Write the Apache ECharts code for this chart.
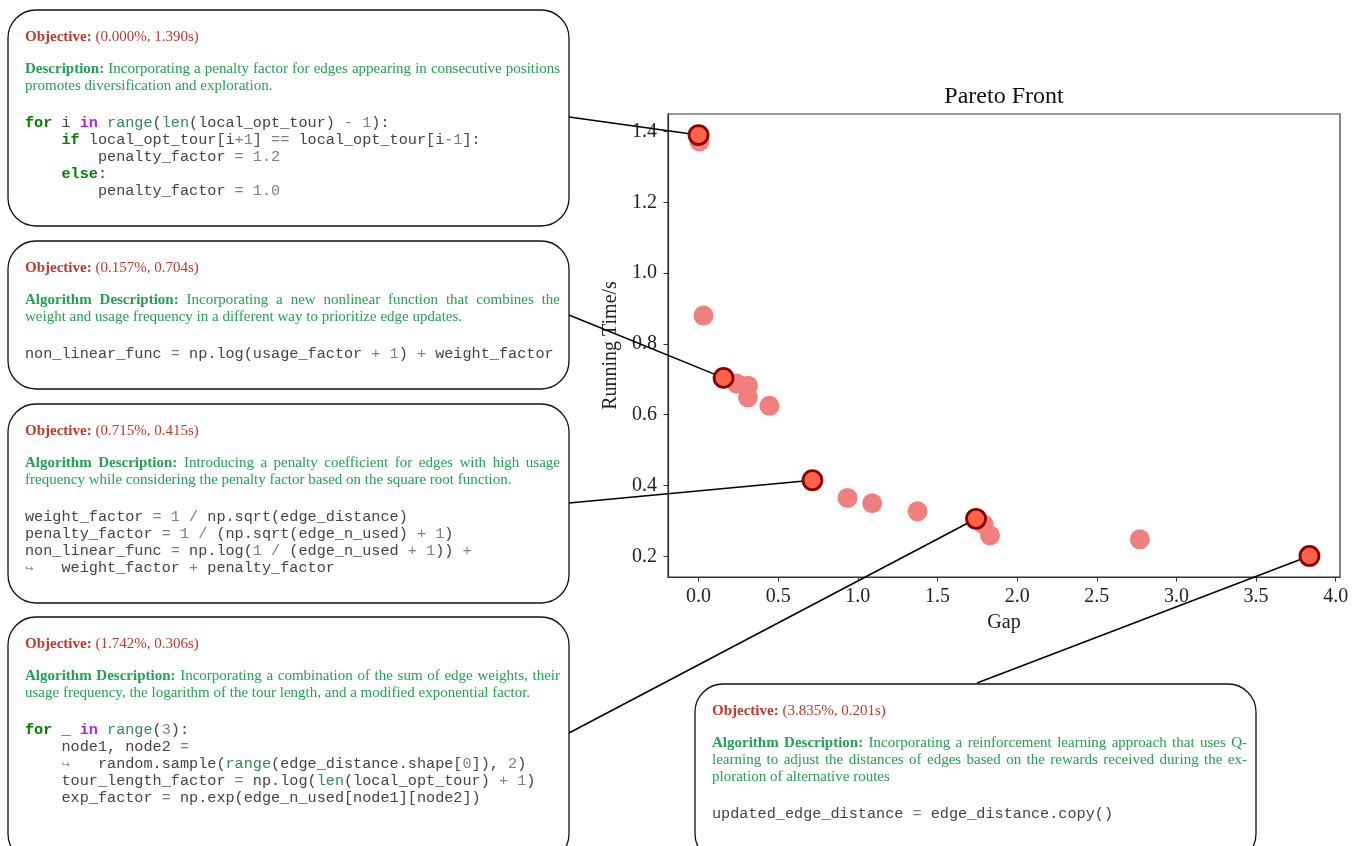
<!DOCTYPE html>
<html><head><meta charset="utf-8">
<script src="https://cdn.jsdelivr.net/npm/echarts@6/dist/echarts.min.js"></script>
<style>html,body{margin:0;padding:0;background:#fff}#main{width:1357px;height:846px}</style>
</head><body><div id="main"></div>
<script>
// ---------- data ----------
const gapOthers  = [0.006, 0.031, 0.24, 0.31, 0.31, 0.445, 0.935, 1.09, 1.375, 1.79, 1.83, 2.77];
const timeOthers = [1.372, 0.880, 0.688, 0.682, 0.649, 0.625, 0.365, 0.350, 0.327, 0.290, 0.259, 0.248];
const gapFront  = [0.000, 0.157, 0.715, 1.742, 3.835];
const timeFront = [1.390, 0.704, 0.415, 0.306, 0.201];
const xTicks = [0, 0.5, 1, 1.5, 2, 2.5, 3, 3.5, 4];
const yTicks = [0.2, 0.4, 0.6, 0.8, 1.0, 1.2, 1.4];

// ---------- annotations ----------
const boxes = [
  {x:8, y:10, w:561, h:216, anchor:[569,117],
   desc:[["{lab|Description:} Incorporating a penalty factor for edges appearing in consecutive positions", true],
         ["promotes diversification and exploration.", false]],
   code:["{kw|for} i {ow|in} {bi|range}({bi|len}(local_opt_tour) {op|-} {num|1}):",
         "    {kw|if} local_opt_tour[i{op|+}{num|1}] {op|==} local_opt_tour[i{op|-}{num|1}]:",
         "        penalty_factor {op|=} {num|1.2}",
         "    {kw|else}:",
         "        penalty_factor {op|=} {num|1.0}"]},
  {x:8, y:241, w:561, h:148, anchor:[569,315],
   desc:[["{lab|Algorithm Description:} Incorporating a new nonlinear function that combines the", true],
         ["weight and usage frequency in a different way to prioritize edge updates.", false]],
   code:["non_linear_func {op|=} np.log(usage_factor {op|+} {num|1}) {op|+} weight_factor"]},
  {x:8, y:404, w:561, h:199, anchor:[569,503],
   desc:[["{lab|Algorithm Description:} Introducing a penalty coefficient for edges with high usage", true],
         ["frequency while considering the penalty factor based on the square root function.", false]],
   code:["weight_factor {op|=} {num|1} {op|/} np.sqrt(edge_distance)",
         "penalty_factor {op|=} {num|1} {op|/} (np.sqrt(edge_n_used) {op|+} {num|1})",
         "non_linear_func {op|=} np.log({num|1} {op|/} (edge_n_used {op|+} {num|1})) {op|+}",
         "{ar|↪}   weight_factor {op|+} penalty_factor"]},
  {x:8, y:617, w:561, h:245, anchor:[569,733],
   desc:[["{lab|Algorithm Description:} Incorporating a combination of the sum of edge weights, their", true],
         ["usage frequency, the logarithm of the tour length, and a modified exponential factor.", false]],
   code:["{kw|for} _ {ow|in} {bi|range}({num|3}):",
         "    node1, node2 {op|=}",
         "    {ar|↪}   random.sample({bi|range}(edge_distance.shape[{num|0}]), {num|2})",
         "    tour_length_factor {op|=} np.log({bi|len}(local_opt_tour) {op|+} {num|1})",
         "    exp_factor {op|=} np.exp(edge_n_used[node1][node2])"]},
  {x:695, y:684, w:561, h:178, anchor:[977,683],
   desc:[["{lab|Algorithm Description:} Incorporating a reinforcement learning approach that uses Q-", true],
         ["learning to adjust the distances of edges based on the rewards received during the ex-", true],
         ["ploration of alternative routes", false]],
   code:["updated_edge_distance {op|=} edge_distance.copy()"]}
];

const RED = '#C0392B', GREEN = '#24A055';
const SERIF = '"Liberation Serif", "Times New Roman", serif';
const MONO = '"Liberation Mono", "Courier New", monospace';
const STY = {
  obj: {font: 'bold 15px ' + SERIF, fill: RED},
  val: {font: '15px ' + SERIF, fill: RED},
  lab: {font: 'bold 15px ' + SERIF, fill: GREEN},
  txt: {font: '15px ' + SERIF, fill: GREEN},
  c:   {font: '15.2px ' + MONO, fill: '#444', mono: true},
  kw:  {font: 'bold 15.2px ' + MONO, fill: '#008000', mono: true},
  ow:  {font: 'bold 15.2px ' + MONO, fill: '#AA22FF', mono: true},
  bi:  {font: '15.2px ' + MONO, fill: '#2E8B57', mono: true},
  num: {font: '15.2px ' + MONO, fill: '#808080', mono: true},
  op:  {font: '15.2px ' + MONO, fill: '#808080', mono: true},
  ar:  {font: '10px "DejaVu Sans", sans-serif', fill: '#888', arrow: true}
};

const ctx = document.createElement('canvas').getContext('2d');
function measure(t, st) { ctx.font = STY[st].font; return ctx.measureText(t).width; }
const CW = measure('MMMMMMMMMM', 'c') / 10;

function parse(s, def) {
  const spans = []; let last = 0;
  s.replace(/\{(\w+)\|([^}]*)\}/g, (m, st, t, off) => {
    if (off > last) spans.push([s.slice(last, off), def]);
    spans.push([t, st]); last = off + m.length; return m;
  });
  if (last < s.length) spans.push([s.slice(last), def]);
  return spans;
}
function textEl(t, st, x, y, align) {
  const s = STY[st];
  return {type: 'text', x: x, y: y, z: 10, silent: true,
    style: {text: t, font: s.font, fill: s.fill, align: align || 'left', verticalAlign: 'middle',
            textAlign: align || 'left', textVerticalAlign: 'middle'}};
}
function proseLine(els, spans, x, y, width, justify) {
  const words = [];
  spans.forEach(([t, st]) => t.split(/\s+/).forEach(w => { if (w) words.push([w, st]); }));
  const ws = words.map(([w, st]) => measure(w, st));
  const sum = ws.reduce((a, b) => a + b, 0);
  const gap = (justify && words.length > 1) ? (width - sum) / (words.length - 1) : measure(' ', 'txt');
  let cx = x;
  words.forEach(([w, st], i) => { els.push(textEl(w, st, cx, y)); cx += ws[i] + gap; });
}
function codeLine(els, spans, x, y) {
  let cx = x;
  spans.forEach(([t, st]) => {
    if (STY[st].arrow) { els.push(textEl(t, st, cx + CW / 2, y + 1, 'center')); cx += CW; return; }
    if (t.trim()) els.push(textEl(t, st, cx, y));
    cx += t.length * CW;
  });
}

// ---------- chart ----------
const allX = gapFront.concat(gapOthers), allY = timeFront.concat(timeOthers);
const xr = Math.max(...allX) - Math.min(...allX);
const yr = Math.max(...allY) - Math.min(...allY);
const xMin = Math.min(...allX) - 0.05 * xr, xMax = Math.max(...allX) + 0.05 * xr;
const yMin = Math.min(...allY) - 0.05 * yr, yMax = Math.max(...allY) + 0.05 * yr;

const axisFont = {fontFamily: SERIF, fontSize: 20, color: '#222'};
const chart = echarts.init(document.getElementById('main'), null, {renderer: 'canvas'});
chart.setOption({
  animation: false,
  backgroundColor: '#fff',
  grid: {left: 668, top: 114, width: 672, height: 463, show: true, borderColor: '#333', borderWidth: 1.2, containLabel: false},
  xAxis: {type: 'value', min: xMin, max: xMax, name: 'Gap', nameLocation: 'middle', nameGap: 36,
    nameTextStyle: axisFont,
    axisLine: {show: true, onZero: false, lineStyle: {color: '#333', width: 1.2}},
    axisTick: {show: true, inside: false, length: 4.5, customValues: xTicks, lineStyle: {color: '#333', width: 1}},
    axisLabel: {customValues: xTicks, formatter: v => v.toFixed(1), margin: 10, ...axisFont},
    splitLine: {show: false}},
  yAxis: {type: 'value', min: yMin, max: yMax, name: 'Running Time/s', nameLocation: 'middle', nameGap: 47,
    nameTextStyle: axisFont,
    axisLine: {show: true, onZero: false, lineStyle: {color: '#333', width: 1.2}},
    axisTick: {show: true, inside: false, length: 4.5, customValues: yTicks, lineStyle: {color: '#333', width: 1}},
    axisLabel: {customValues: yTicks, formatter: v => v.toFixed(1), margin: 11, ...axisFont},
    splitLine: {show: false}},
  series: [
    {type: 'scatter', z: 3, data: gapOthers.map((g, i) => [g, timeOthers[i]]), symbolSize: 20,
     itemStyle: {color: '#F08080', opacity: 1}, emphasis: {disabled: true}},
    {type: 'scatter', z: 4, data: gapFront.map((g, i) => [g, timeFront[i]]), symbolSize: 19,
     itemStyle: {color: '#FF6347', borderColor: '#8B0000', borderWidth: 2.8, opacity: 1}, emphasis: {disabled: true}}
  ]
});

const els = [];
els.push({type: 'text', x: 1004, y: 97, z: 10, silent: true,
  style: {text: 'Pareto Front', font: '24px ' + SERIF, fill: '#111', align: 'center', verticalAlign: 'middle',
          textAlign: 'center', textVerticalAlign: 'middle'}});
boxes.forEach((b, i) => {
  els.push({type: 'rect', z: 5, silent: true, shape: {x: b.x, y: b.y, width: b.w, height: b.h, r: 28},
    style: {fill: '#fff', stroke: '#111', lineWidth: 1.3}});
  const tx = b.x + 17, width = 535;
  const obj = '{obj|Objective:} {val|(' + gapFront[i].toFixed(3) + '%, ' + timeFront[i].toFixed(3) + 's)}';
  proseLine(els, parse(obj, 'val'), tx, b.y + 27, width, false);
  let y = b.y + 59;
  b.desc.forEach(([m, j]) => { proseLine(els, parse(m, 'txt'), tx, y, width, j); y += 17; });
  y += 20;
  b.code.forEach(m => { codeLine(els, parse(m, 'c'), tx, y); y += 17; });
  const p = chart.convertToPixel({seriesIndex: 1}, [gapFront[i], timeFront[i]]);
  els.push({type: 'line', z: 2, silent: true, shape: {x1: b.anchor[0], y1: b.anchor[1], x2: p[0], y2: p[1]},
    style: {stroke: '#000', lineWidth: 1.5}});
});
chart.setOption({graphic: {elements: els}});
</script></body></html>
